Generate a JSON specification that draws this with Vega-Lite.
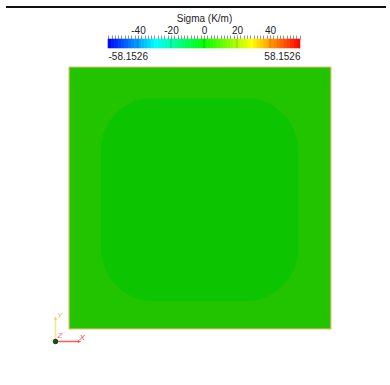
{
  "$schema": "https://vega.github.io/schema/vega-lite/v6.json",
  "padding": {"left": 5, "top": 6, "right": 5, "bottom": 5},
  "background": "white",
  "columns": 1,
  "bounds": "full",
  "spacing": 5,
  "resolve": {"scale": {"color": "independent"}},
  "concat": [
    {
      "width": 380,
      "height": 1,
      "data": {"values": [{"edge": 0}]},
      "mark": {"type": "rule", "color": "#111111", "strokeWidth": 2},
      "encoding": {
        "y": {"field": "edge", "type": "quantitative", "scale": {"domain": [0, 1]}, "axis": null}
      }
    },
    {
      "width": 294,
      "height": 9,
      "resolve": {"axis": {"x": "independent"}},
      "layer": [
        {
          "data": {"values": [
            {"lo": -58.1526, "hi": -56, "sigma": -57.08},
            {"lo": -56, "hi": -54, "sigma": -55},
            {"lo": -54, "hi": -52, "sigma": -53},
            {"lo": -52, "hi": -50, "sigma": -51},
            {"lo": -50, "hi": -48, "sigma": -49},
            {"lo": -48, "hi": -46, "sigma": -47},
            {"lo": -46, "hi": -44, "sigma": -45},
            {"lo": -44, "hi": -42, "sigma": -43},
            {"lo": -42, "hi": -40, "sigma": -41},
            {"lo": -40, "hi": -38, "sigma": -39},
            {"lo": -38, "hi": -36, "sigma": -37},
            {"lo": -36, "hi": -34, "sigma": -35},
            {"lo": -34, "hi": -32, "sigma": -33},
            {"lo": -32, "hi": -30, "sigma": -31},
            {"lo": -30, "hi": -28, "sigma": -29},
            {"lo": -28, "hi": -26, "sigma": -27},
            {"lo": -26, "hi": -24, "sigma": -25},
            {"lo": -24, "hi": -22, "sigma": -23},
            {"lo": -22, "hi": -20, "sigma": -21},
            {"lo": -20, "hi": -18, "sigma": -19},
            {"lo": -18, "hi": -16, "sigma": -17},
            {"lo": -16, "hi": -14, "sigma": -15},
            {"lo": -14, "hi": -12, "sigma": -13},
            {"lo": -12, "hi": -10, "sigma": -11},
            {"lo": -10, "hi": -8, "sigma": -9},
            {"lo": -8, "hi": -6, "sigma": -7},
            {"lo": -6, "hi": -4, "sigma": -5},
            {"lo": -4, "hi": -2, "sigma": -3},
            {"lo": -2, "hi": 0, "sigma": -1},
            {"lo": 0, "hi": 2, "sigma": 1},
            {"lo": 2, "hi": 4, "sigma": 3},
            {"lo": 4, "hi": 6, "sigma": 5},
            {"lo": 6, "hi": 8, "sigma": 7},
            {"lo": 8, "hi": 10, "sigma": 9},
            {"lo": 10, "hi": 12, "sigma": 11},
            {"lo": 12, "hi": 14, "sigma": 13},
            {"lo": 14, "hi": 16, "sigma": 15},
            {"lo": 16, "hi": 18, "sigma": 17},
            {"lo": 18, "hi": 20, "sigma": 19},
            {"lo": 20, "hi": 22, "sigma": 21},
            {"lo": 22, "hi": 24, "sigma": 23},
            {"lo": 24, "hi": 26, "sigma": 25},
            {"lo": 26, "hi": 28, "sigma": 27},
            {"lo": 28, "hi": 30, "sigma": 29},
            {"lo": 30, "hi": 32, "sigma": 31},
            {"lo": 32, "hi": 34, "sigma": 33},
            {"lo": 34, "hi": 36, "sigma": 35},
            {"lo": 36, "hi": 38, "sigma": 37},
            {"lo": 38, "hi": 40, "sigma": 39},
            {"lo": 40, "hi": 42, "sigma": 41},
            {"lo": 42, "hi": 44, "sigma": 43},
            {"lo": 44, "hi": 46, "sigma": 45},
            {"lo": 46, "hi": 48, "sigma": 47},
            {"lo": 48, "hi": 50, "sigma": 49},
            {"lo": 50, "hi": 52, "sigma": 51},
            {"lo": 52, "hi": 54, "sigma": 53},
            {"lo": 54, "hi": 56, "sigma": 55},
            {"lo": 56, "hi": 58.1526, "sigma": 57.08}
          ]},
          "mark": {"type": "rect", "strokeWidth": 0.6},
          "encoding": {
            "x": {
              "field": "lo", "type": "quantitative",
              "scale": {"domain": [-119.94, 58.1526], "nice": false, "zero": false},
              "axis": {
                "orient": "bottom", "values": [-58.1526, 58.1526], "format": ".4f",
                "labelAlign": {"condition": {"test": "datum.value < 0", "value": "left"}, "value": "right"},
                "ticks": false, "domain": false, "grid": false,
                "title": null, "labelPadding": 3, "labelFontSize": 10, "labelColor": "#222222"
              }
            },
            "x2": {"field": "hi"},
            "y": {
              "datum": 0, "type": "quantitative", "scale": {"domain": [0, 1], "nice": false},
              "axis": null
            },
            "y2": {"datum": 1},
            "color": {
              "field": "sigma", "type": "quantitative", "legend": null,
              "scale": {
                "domain": [-58.1526, -29.0763, 0, 29.0763, 58.1526],
                "range": ["#0000ff", "#00ffff", "#00ff00", "#ffff00", "#ff0000"],
                "interpolate": "rgb"
              }
            },
            "stroke": {
              "field": "sigma", "type": "quantitative", "legend": null,
              "scale": {
                "domain": [-58.1526, -29.0763, 0, 29.0763, 58.1526],
                "range": ["#0000ff", "#00ffff", "#00ff00", "#ffff00", "#ff0000"],
                "interpolate": "rgb"
              }
            }
          }
        },
        {
          "data": {"values": [{"t": -40}, {"t": -20}, {"t": 0}, {"t": 20}, {"t": 40}]},
          "mark": {"type": "rule", "color": "#000000", "opacity": 0.2, "strokeWidth": 1},
          "encoding": {
            "x": {
              "field": "t", "type": "quantitative",
              "axis": {
                "orient": "top",
                "values": [-58, -56, -54, -52, -50, -48, -46, -44, -42, -40, -38, -36, -34, -32, -30, -28, -26, -24, -22, -20, -18, -16, -14, -12, -10, -8, -6, -4, -2, 0, 2, 4, 6, 8, 10, 12, 14, 16, 18, 20, 22, 24, 26, 28, 30, 32, 34, 36, 38, 40, 42, 44, 46, 48, 50, 52, 54, 56, 58],
                "labelExpr": "datum.value % 20 === 0 ? datum.label : ''",
                "labelOverlap": false,
                "tickSize": 4, "tickColor": "#777777", "tickWidth": 0.8,
                "domain": false, "grid": false,
                "labelPadding": 0, "labelFontSize": 10, "labelColor": "#222222",
                "title": "Sigma (K/m)", "titleFontSize": 10, "titleFontWeight": "normal",
                "titleColor": "#222222", "titlePadding": 2, "titleX": 198
              }
            }
          }
        }
      ]
    },
    {
      "width": 325,
      "height": 262,
      "layer": [
        {
          "data": {"values": [{"x0": 0, "x1": 1, "y0": 0, "y1": 1, "sigma": 5}]},
          "mark": {"type": "rect", "stroke": "#e3c27e", "strokeWidth": 1.2},
          "encoding": {
            "x": {"field": "x0", "type": "quantitative", "scale": {"domain": [-0.24046, 1], "nice": false, "zero": false}, "axis": null},
            "x2": {"field": "x1"},
            "y": {
              "field": "y0", "type": "quantitative", "scale": {"domain": [0, 1], "nice": false},
              "axis": null
            },
            "y2": {"field": "y1"},
            "color": {
              "field": "sigma", "type": "quantitative", "legend": null,
              "scale": {
                "domain": [-58.1526, -29.0763, 0, 29.0763, 58.1526],
                "range": ["#0000c4", "#00c4c4", "#00c400", "#c4c400", "#c40000"],
                "interpolate": "rgb"
              }
            }
          }
        },
        {
          "data": {"values": [{"x0": 0.122, "x1": 0.874, "y0": 0.107, "y1": 0.882, "sigma": 2}]},
          "mark": {"type": "rect", "cornerRadius": 52},
          "encoding": {
            "x": {"field": "x0", "type": "quantitative"},
            "x2": {"field": "x1"},
            "y": {"field": "y0", "type": "quantitative"},
            "y2": {"field": "y1"},
            "color": {"field": "sigma", "type": "quantitative", "legend": null}
          }
        },
        {
          "data": {"values": [
            {"axis": "X", "ax": -0.0515, "ay": -0.0477, "bx": 0.038, "by": -0.0477},
            {"axis": "Y", "ax": -0.0515, "ay": -0.0477, "bx": -0.0515, "by": 0.038}
          ]},
          "mark": {"type": "rule", "strokeWidth": 1.5},
          "encoding": {
            "x": {"field": "ax", "type": "quantitative"},
            "y": {"field": "ay", "type": "quantitative"},
            "x2": {"field": "bx"},
            "y2": {"field": "by"},
            "stroke": {"field": "axis", "type": "nominal", "legend": null,
              "scale": {"domain": ["X", "Y"], "range": ["#ff5a5a", "#efec7c"]}}
          }
        },
        {
          "data": {"values": [{"ax": 0.04, "ay": -0.0477}]},
          "mark": {"type": "point", "shape": "triangle-right", "filled": true, "size": 14, "color": "#e83030"},
          "encoding": {
            "x": {"field": "ax", "type": "quantitative"},
            "y": {"field": "ay", "type": "quantitative"}
          }
        },
        {
          "data": {"values": [{"ax": -0.0515, "ay": 0.042}]},
          "mark": {"type": "point", "shape": "triangle-up", "filled": true, "size": 14, "color": "#d9c84a"},
          "encoding": {
            "x": {"field": "ax", "type": "quantitative"},
            "y": {"field": "ay", "type": "quantitative"}
          }
        },
        {
          "data": {"values": [{"ax": -0.0515, "ay": -0.0477}]},
          "mark": {"type": "point", "filled": true, "size": 28, "color": "#1d4a1d", "opacity": 1},
          "encoding": {
            "x": {"field": "ax", "type": "quantitative"},
            "y": {"field": "ay", "type": "quantitative"}
          }
        },
        {
          "data": {"values": [
            {"axis": "X", "ax": 0.05, "ay": -0.036},
            {"axis": "Y", "ax": -0.036, "ay": 0.048},
            {"axis": "Z", "ax": -0.035, "ay": -0.028}
          ]},
          "mark": {"type": "text", "fontSize": 8, "fontStyle": "italic"},
          "encoding": {
            "x": {"field": "ax", "type": "quantitative"},
            "y": {"field": "ay", "type": "quantitative"},
            "text": {"field": "axis"},
            "fill": {"field": "axis", "type": "nominal", "legend": null,
              "scale": {"domain": ["X", "Y", "Z"], "range": ["#f03c3c", "#e0c040", "#f07090"]}}
          }
        }
      ]
    }
  ],
  "config": {
    "view": {"stroke": null},
    "font": "Liberation Sans",
    "locale": {
      "number": {"decimal": ".", "thousands": ",", "grouping": [3], "currency": ["$", ""], "minus": "-"}
    }
  }
}
